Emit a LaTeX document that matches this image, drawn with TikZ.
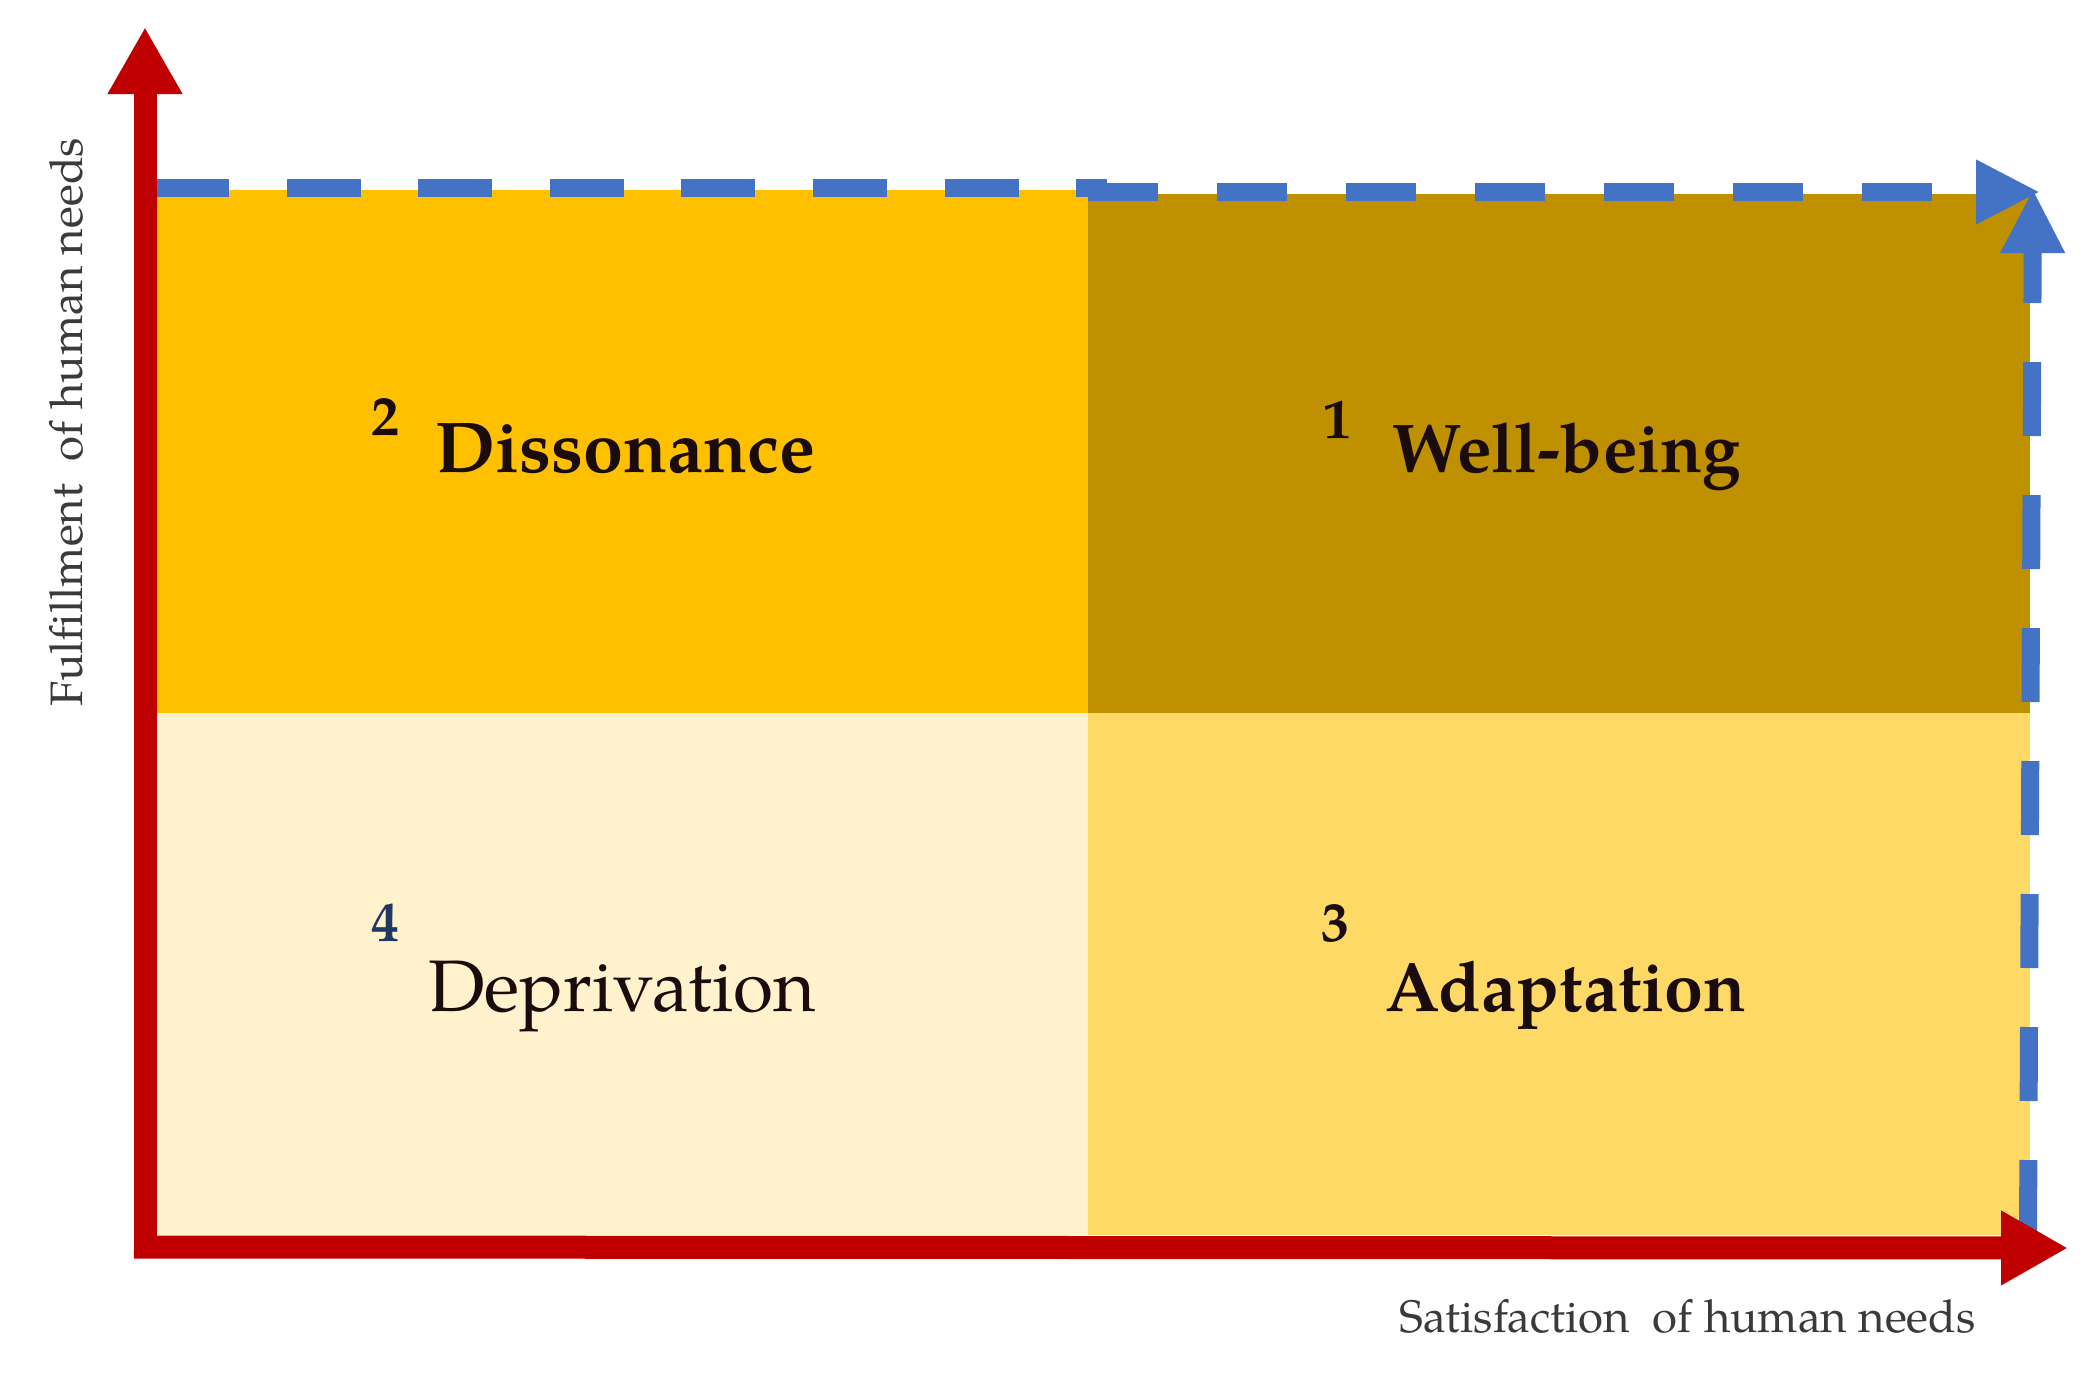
\documentclass[tikz,border=0pt]{standalone}
\usepackage{fontspec}
\setmainfont{TeX Gyre Pagella}
\usetikzlibrary{arrows.meta}
\definecolor{axisred}{HTML}{C00000}
\definecolor{dashblue}{HTML}{4472C4}
\definecolor{qone}{HTML}{BF9000}
\definecolor{qtwo}{HTML}{FFC000}
\definecolor{qthree}{HTML}{FFD966}
\definecolor{qfour}{HTML}{FFF2CC}
\definecolor{navynum}{HTML}{1F3864}
\definecolor{inkdark}{HTML}{1A0C0C}
\definecolor{labelgray}{HTML}{3A3A3A}
\begin{document}
\begin{tikzpicture}[x=1pt,y=-1pt,
  axis/.style={draw=axisred, line width=23pt, -{Triangle[length=67pt,width=70pt]}},
  bluedash/.style={draw=dashblue, line width=18pt},
  bluetip/.style={-{Triangle[length=64pt,width=60pt]}},
  qlabel/.style={font=\fontsize{70}{80}\selectfont\bfseries, text=inkdark, anchor=base west, inner sep=0pt},
  qnum/.style={font=\fontsize{56}{64}\selectfont\bfseries, text=inkdark, anchor=base west, inner sep=0pt},
  axlabel/.style={font=\fontsize{45.5}{52}\selectfont, text=labelgray, inner sep=0pt}]
\useasboundingbox (0,0) rectangle (2099,1384);
% quadrants
\fill[qtwo] (157,190) rectangle (1088,713);
\fill[qone] (1088,194) rectangle (2030,713);
\fill[qfour] (157,713) rectangle (1088,1235);
\fill[qthree] (1088,713) rectangle (2030,1235);
% blue dashed lines
\draw[bluedash, dash pattern=on 74pt off 57.6pt] (155,188) -- (1107,188);
\draw[bluedash, bluetip, dash pattern=on 70pt off 59pt] (1088,192) -- (2040,192);
\draw[bluedash, bluetip, line width=18pt, dash pattern=on 74pt off 59pt] (2028,1234) -- (2033,189);
% axes
\draw[axis] (145,1258) -- (145,27);
\draw[axis] (134,1247) -- (2068,1248);
% quadrant labels
\node[qnum] (n2) at (371,435) {2};
\node[qlabel, font=\fontsize{72}{80}\selectfont\bfseries] (t2) at (435,472) {Dissonance};
\node[qnum] (n1) at (1323,438) {1};
\node[qlabel, font=\fontsize{69}{80}\selectfont\bfseries] (t1) at (1392,472) {Well-being};
\node[qnum, text=navynum] (n4) at (371,941) {4};
\node[qlabel, font=\fontsize{73}{80}\selectfont] (t4) at (428,1011) {Deprivation};
\node[qnum] (n3) at (1321,941) {3};
\node[qlabel] (t3) at (1385,1011) {Adaptation};
% axis labels
\node[axlabel, rotate=90, anchor=base] (ylab) at (82,422) {Fulfillment\ \ of human needs};
\node[axlabel, anchor=base west] (xlab) at (1399,1332) {Satisfaction\ \ of human needs};
\end{tikzpicture}
\end{document}
